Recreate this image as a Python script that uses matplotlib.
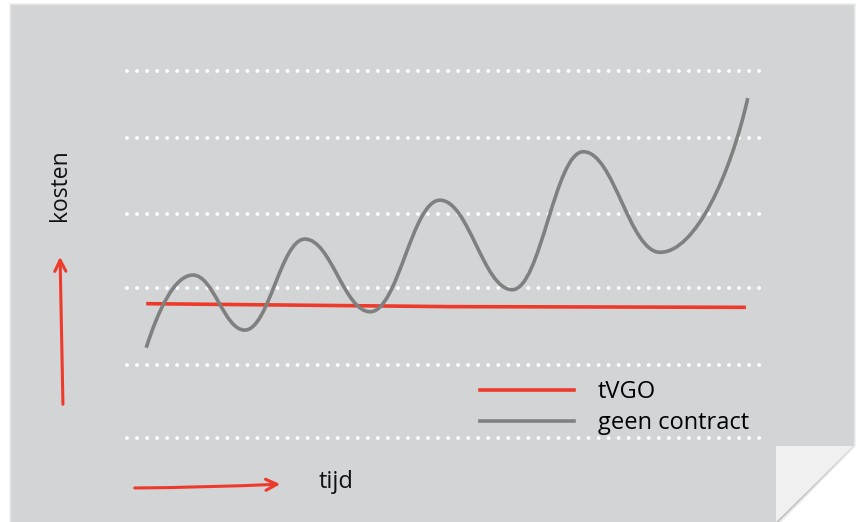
import numpy as np
import matplotlib
matplotlib.use('Agg')
import matplotlib.pyplot as plt
from matplotlib.path import Path
from matplotlib.patches import PathPatch, Polygon, FancyArrowPatch
from matplotlib.lines import Line2D

plt.rcParams['font.family'] = ['Open Sans', 'DejaVu Sans']

## Data (tijd in willekeurige eenheden, kosten idem)
tijd_tvgo = [0.30, 5.0, 9.67]
kosten_tvgo = [1.83, 1.79, 1.78]
tijd_geen = [0.30, 1.03, 1.84, 2.78, 3.80, 4.89, 6.02, 7.13, 8.33, 9.70]
kosten_geen = [1.23, 2.22, 1.47, 2.71, 1.72, 3.24, 2.02, 3.90, 2.53, 4.63]
rasterlijnen = [0.0, 0.99, 2.04, 3.05, 4.09, 5.0]
labels = ['tVGO', 'geen contract']

ROOD = '#ee3a2b'
GRIJS = '#808080'
PAPIER = '#d3d4d6'

W, H = 864, 522


def fx(px):
    return px / W


def fy(py):
    return 1 - py / H


''' Gladde golflijn door de extremen (horizontale raaklijn in de toppen) '''
def golf_pad(x, y, a=0.4):
    verts = [(x[0], y[0])]
    codes = [Path.MOVETO]
    n = len(x)
    for i in range(n - 1):
        x0, y0, x1, y1 = x[i], y[i], x[i + 1], y[i + 1]
        dx, dy = x1 - x0, y1 - y0
        c1 = (x0 + dx * 0.25, y0 + dy * 0.5) if i == 0 else (x0 + dx * a, y0)
        c2 = (x1 - dx * 0.2, y1 - dy * 0.5) if i == n - 2 else (x1 - dx * a, y1)
        verts += [c1, c2, (x1, y1)]
        codes += [Path.CURVE4] * 3
    return Path(verts, codes)


fig = plt.figure(figsize=(W / 100, H / 100), dpi=100)
fig.patch.set_facecolor('white')

# schaduw van het papier
for k, al in enumerate([0.05, 0.05, 0.06]):
    o = 3 - k
    sh = Polygon([(fx(12 - o), fy(6 - o)), (fx(853 + o), fy(6 - o)), (fx(853 + o), fy(446)),
                  (fx(776), fy(522 + o)), (fx(12 - o), fy(522 + o))],
                 closed=True, transform=fig.transFigure, facecolor='black', alpha=al,
                 edgecolor='none', zorder=0)
    fig.add_artist(sh)

papier = Polygon([(fx(12), fy(6)), (fx(853), fy(6)), (fx(853), fy(446)),
                  (fx(776), fy(522)), (fx(12), fy(522))],
                 closed=True, transform=fig.transFigure, facecolor=PAPIER,
                 edgecolor='none', zorder=0.5)
fig.add_artist(papier)

# omgevouwen hoekje
for k in range(3):
    o = 3 - k
    sh = Polygon([(fx(853 + o), fy(446)), (fx(776 + o), fy(522 + o)), (fx(776), fy(522))],
                 closed=True, transform=fig.transFigure, facecolor='black', alpha=0.05,
                 edgecolor='none', zorder=0.6)
    fig.add_artist(sh)
hoek = Polygon([(fx(776), fy(446)), (fx(853), fy(446)), (fx(776), fy(522))],
               closed=True, transform=fig.transFigure, facecolor='#f0f0f0',
               edgecolor='none', zorder=0.7)
fig.add_artist(hoek)

ax = fig.add_axes([fx(127), fy(438), fx(767) - fx(127), fy(71) - fy(438)])
ax.set_zorder(2)
ax.patch.set_visible(False)
ax.set_xlim(0, 10)
ax.set_ylim(0, 5)
ax.set_axis_off()

for r in rasterlijnen:
    ax.plot([0, 10], [r, r], color='white', lw=2.8, dashes=(0.01, 2.57),
            dash_capstyle='round', clip_on=False, zorder=1)

ax.plot(tijd_tvgo, kosten_tvgo, color=ROOD, lw=2.6, solid_capstyle='butt', zorder=2)
ax.add_patch(PathPatch(golf_pad(tijd_geen, kosten_geen), facecolor='none',
                       edgecolor=GRIJS, lw=2.6, capstyle='butt', zorder=3))

handles = [Line2D([], [], color=ROOD, lw=2.6), Line2D([], [], color=GRIJS, lw=2.6)]
leg = fig.legend(handles, labels, loc='upper left', bbox_to_anchor=(fx(480), fy(380)),
                 frameon=False, fontsize=17, handlelength=4.0, handletextpad=1.0,
                 labelspacing=0.3, borderpad=0, borderaxespad=0)
leg.set_zorder(3)

# pijlen met as-labels
fig.add_artist(FancyArrowPatch(
    (fx(63), fy(407)), (fx(60), fy(254)), transform=fig.transFigure,
    arrowstyle='->,head_length=8,head_width=4', connectionstyle='arc3,rad=0.0',
    color=ROOD, lw=2.2, zorder=4))
fig.add_artist(FancyArrowPatch(
    (fx(132), fy(488)), (fx(283), fy(484)), transform=fig.transFigure,
    arrowstyle='->,head_length=8,head_width=4', connectionstyle='arc3,rad=0.01',
    color=ROOD, lw=2.2, zorder=4))

fig.text(fx(60), fy(185), 'kosten', rotation=90, ha='center', va='center',
         fontsize=16.5, color='#111111', zorder=4)
fig.text(fx(319), fy(482), 'tijd', ha='left', va='center', fontsize=17,
         color='#111111', zorder=4)

fig.savefig('out.png', dpi=100)
